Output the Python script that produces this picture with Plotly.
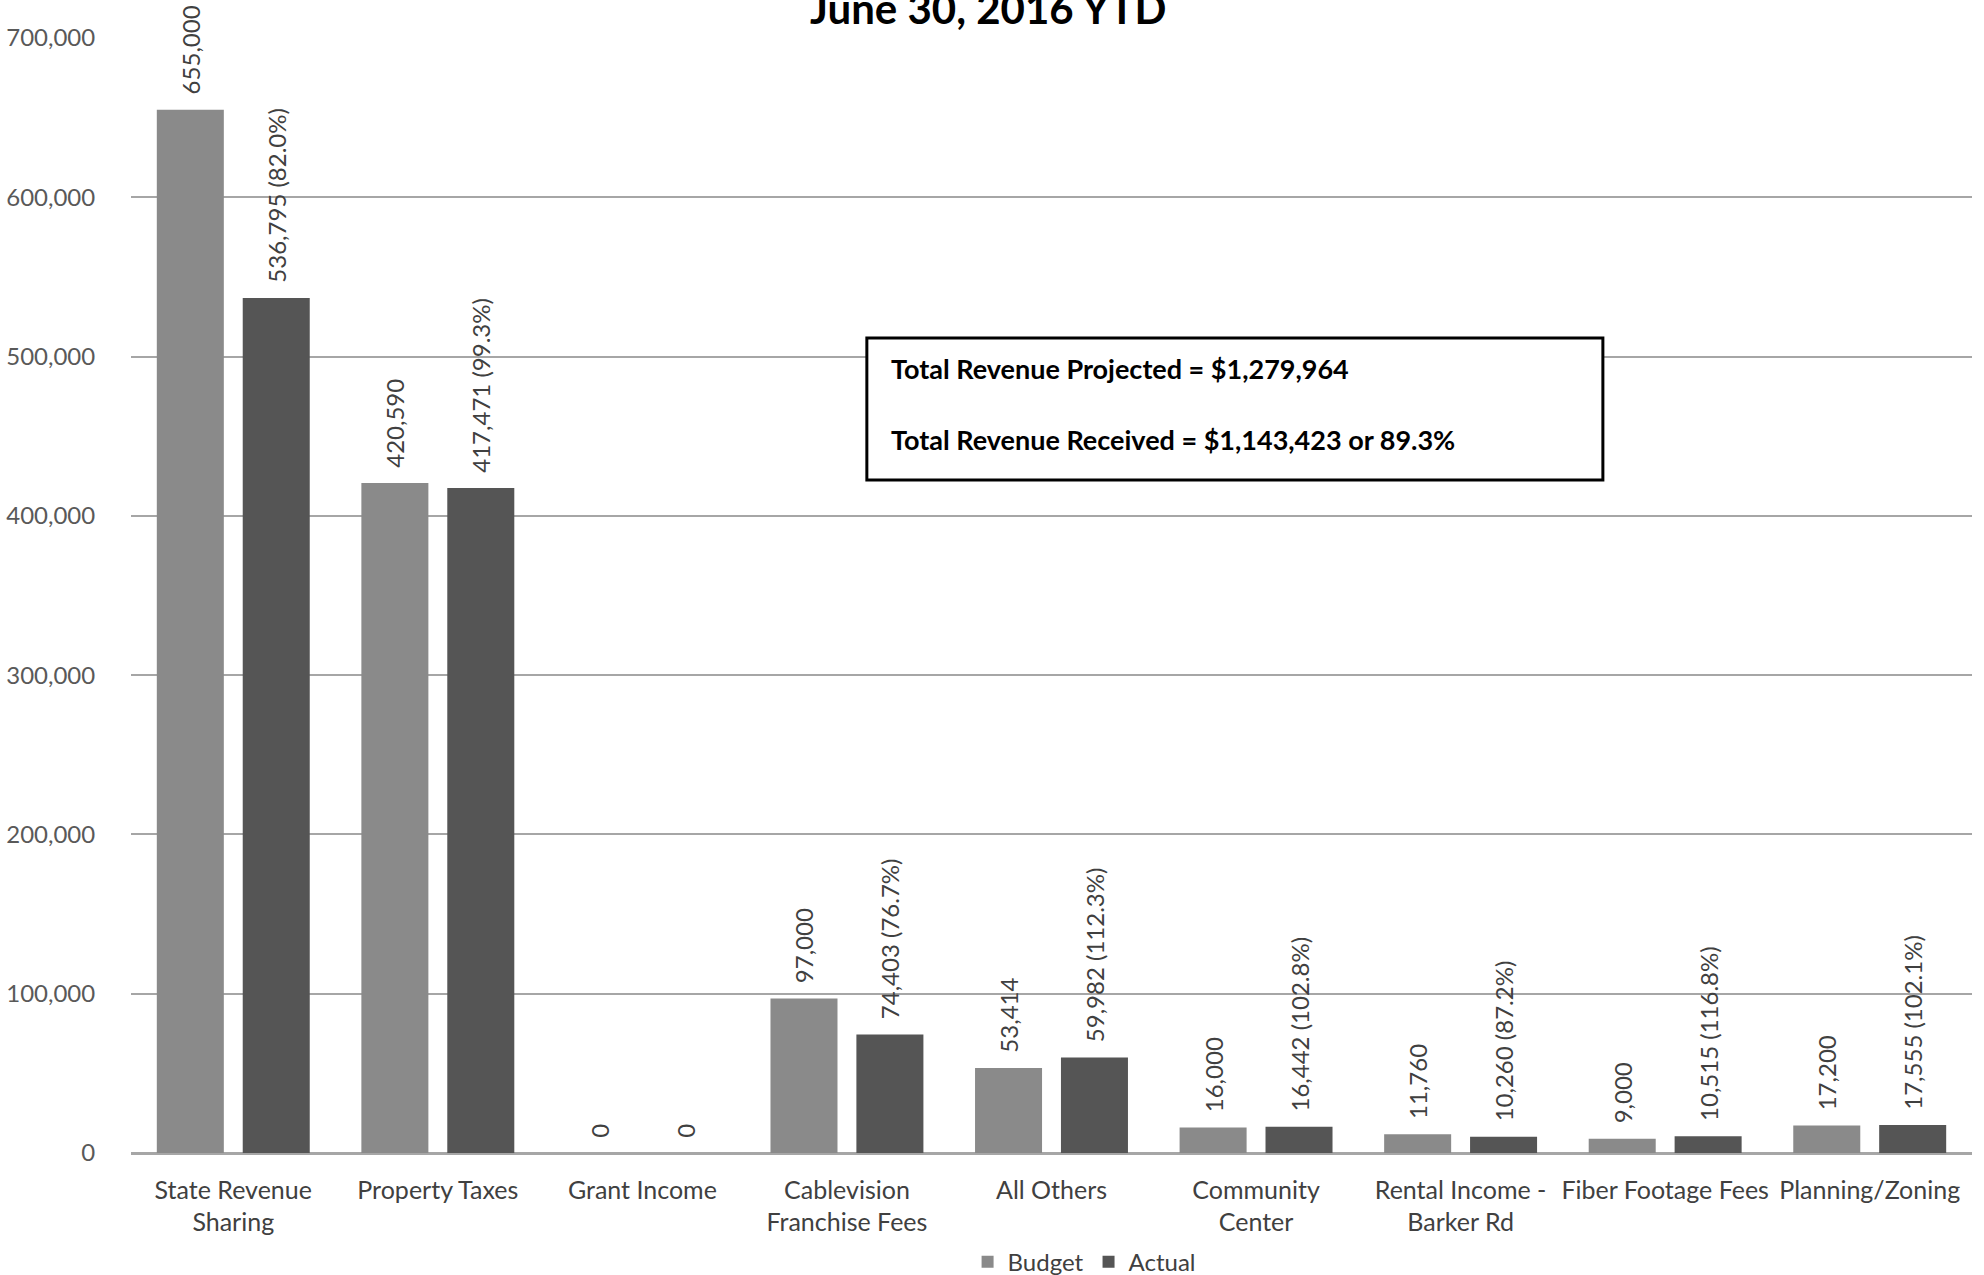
import plotly.graph_objects as go

# Revenue categories (x axis)
categories = [
    "State Revenue<br>Sharing",
    "Property Taxes",
    "Grant Income",
    "Cablevision<br>Franchise Fees",
    "All Others",
    "Community<br>Center",
    "Rental Income -<br>Barker Rd",
    "Fiber Footage Fees",
    "Planning/Zoning",
]

# Annual budget and year-to-date actual revenue
budget = [655000, 420590, 0, 97000, 53414, 16000, 11760, 9000, 17200]
actual = [536795, 417471, 0, 74403, 59982, 16442, 10260, 10515, 17555]

y_ticks = [0, 100000, 200000, 300000, 400000, 500000, 600000, 700000]

title_text = "June 30, 2016 YTD"

FONT = "Lato"
BUDGET_COLOR = "#8a8a8a"
ACTUAL_COLOR = "#555555"
TEXT_COLOR = "#404040"
LABEL_PAD = "\u00a0\u00a0"  # breathing room between bar top and rotated label

budget_labels = [LABEL_PAD + f"{b:,}" for b in budget]
actual_labels = [
    LABEL_PAD + (f"{a:,} ({a / b * 100:.1f}%)" if b else f"{a:,}")
    for a, b in zip(actual, budget)
]

total_budget = sum(budget)
total_actual = sum(actual)

fig = go.Figure()
fig.add_trace(go.Bar(
    name="Budget", x=categories, y=budget,
    marker=dict(color=BUDGET_COLOR, line=dict(width=0)),
    text=budget_labels, textposition="outside", textangle=-90,
    constraintext="none", cliponaxis=False,
    textfont=dict(family=FONT, size=24, color=TEXT_COLOR),
))
fig.add_trace(go.Bar(
    name="Actual", x=categories, y=actual,
    marker=dict(color=ACTUAL_COLOR, line=dict(width=0)),
    text=actual_labels, textposition="outside", textangle=-90,
    constraintext="none", cliponaxis=False,
    textfont=dict(family=FONT, size=24, color=TEXT_COLOR),
))

# Summary box with totals
fig.add_shape(type="rect", xref="paper", yref="paper",
              x0=0.3997, x1=0.7995, y0=0.6036, y1=0.7309,
              line=dict(color="black", width=3), fillcolor="white", layer="above")
fig.add_annotation(xref="paper", yref="paper", x=0.4115, y=0.7040,
                   xanchor="left", yanchor="middle", showarrow=False,
                   text=f"<b>Total Revenue Projected = ${total_budget:,}</b>",
                   font=dict(family=FONT, size=27, color="black"))
fig.add_annotation(xref="paper", yref="paper", x=0.4115, y=0.6400,
                   xanchor="left", yanchor="middle", showarrow=False,
                   text=f"<b>Total Revenue Received = ${total_actual:,} or "
                        f"{total_actual / total_budget * 100:.1f}%</b>",
                   font=dict(family=FONT, size=27, color="black"))

# Title line at the top edge
fig.add_annotation(xref="paper", yref="paper", x=0.466, y=1.003,
                   xanchor="center", yanchor="bottom", showarrow=False,
                   text=f"<b>{title_text}</b>",
                   font=dict(family=FONT, size=42, color="black"))

fig.update_layout(
    width=1984, height=1275,
    margin=dict(l=131, r=12, t=38, b=122, autoexpand=False),
    paper_bgcolor="white", plot_bgcolor="white",
    barmode="group", bargap=0.16, bargroupgap=0.22,
    font=dict(family=FONT, size=24, color=TEXT_COLOR),
    showlegend=True,
    legend=dict(orientation="h", x=0.5177, y=-0.098, xanchor="center",
                yanchor="middle", font=dict(family=FONT, size=24, color=TEXT_COLOR),
                itemsizing="constant", itemwidth=30, traceorder="normal"),
)
fig.update_xaxes(
    showgrid=False, showline=True, linecolor="#a6a6a6", linewidth=1.5,
    ticks="outside", ticklen=14, tickcolor="rgba(0,0,0,0)",
    tickfont=dict(family=FONT, size=25, color=TEXT_COLOR), tickangle=0,
)
fig.update_yaxes(
    range=[0, 700000], tickvals=y_ticks, tickformat=",",
    showgrid=True, gridcolor="#a6a6a6", gridwidth=1.5,
    zeroline=True, zerolinecolor="#a6a6a6", zerolinewidth=1.5,
    showline=False, ticks="outside", ticklen=30, tickcolor="rgba(0,0,0,0)",
    tickfont=dict(family=FONT, size=24, color="#595959"),
)

fig.write_html("out.html")
